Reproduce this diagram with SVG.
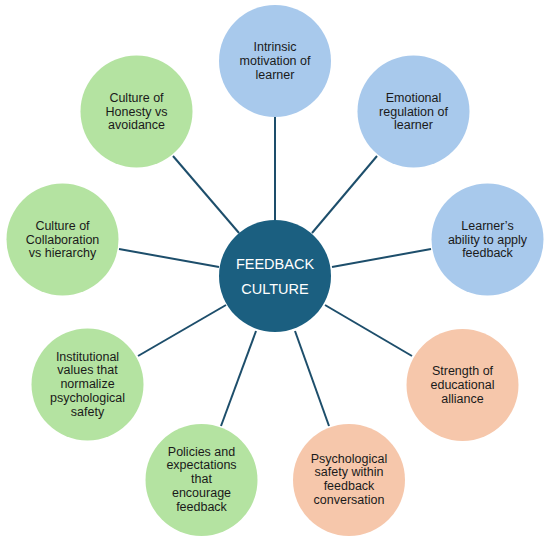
<svg xmlns="http://www.w3.org/2000/svg" width="550" height="542" viewBox="0 0 550 542">
<style>
.blue{fill:#a8c9ec}
.green{fill:#b4e3a1}
.peach{fill:#f6c7ab}
.hub{fill:#1b5f80}
.t{font-family:"Liberation Sans",Arial,sans-serif;font-size:12.5px;fill:#1a1a1a;text-anchor:middle}
.ht{font-family:"Liberation Sans",Arial,sans-serif;font-size:14.5px;fill:#ffffff;text-anchor:middle}
.c{stroke:#1d4e6b;stroke-width:2;fill:none}
</style>
<rect width="550" height="542" fill="#ffffff"/>
<g id="connectors">
<line class="c" x1="275" y1="117" x2="275" y2="221"/>
<line class="c" x1="377" y1="156" x2="312" y2="233"/>
<line class="c" x1="431" y1="249" x2="332" y2="267"/>
<line class="c" x1="412" y1="356" x2="325" y2="305"/>
<line class="c" x1="329" y1="426" x2="295" y2="331"/>
<line class="c" x1="221" y1="426" x2="256" y2="331"/>
<line class="c" x1="138" y1="356" x2="226" y2="305"/>
<line class="c" x1="119" y1="249" x2="219" y2="267"/>
<line class="c" x1="173" y1="156" x2="239" y2="233"/>
</g>
<g id="hub">
<circle class="hub" cx="275" cy="276" r="56"/>
<text class="ht" x="275" y="269">FEEDBACK</text>
<text class="ht" x="275" y="294">CULTURE</text>
</g>
<g id="intrinsic">
<circle class="blue" cx="275" cy="61" r="56"/>
<text class="t" x="275" y="51">Intrinsic</text>
<text class="t" x="275" y="65">motivation of</text>
<text class="t" x="275" y="78.5">learner</text>
</g>
<g id="emotional">
<circle class="blue" cx="413.5" cy="111.5" r="56"/>
<text class="t" x="413.5" y="101.7">Emotional</text>
<text class="t" x="413.5" y="115.7">regulation of</text>
<text class="t" x="413.5" y="129.2">learner</text>
</g>
<g id="ability">
<circle class="blue" cx="487.5" cy="239.5" r="56"/>
<text class="t" x="487.5" y="229.7">Learner’s</text>
<text class="t" x="487.5" y="243.7">ability to apply</text>
<text class="t" x="487.5" y="257.2">feedback</text>
</g>
<g id="alliance">
<circle class="peach" cx="462.5" cy="385" r="56"/>
<text class="t" x="462.5" y="375.2">Strength of</text>
<text class="t" x="462.5" y="389.2">educational</text>
<text class="t" x="462.5" y="402.7">alliance</text>
</g>
<g id="psych">
<circle class="peach" cx="349" cy="480" r="56"/>
<text class="t" x="349" y="462.7">Psychological</text>
<text class="t" x="349" y="476.2">safety within</text>
<text class="t" x="349" y="490">feedback</text>
<text class="t" x="349" y="503.5">conversation</text>
</g>
<g id="policies">
<circle class="green" cx="201.5" cy="480" r="56"/>
<text class="t" x="201.5" y="455.7">Policies and</text>
<text class="t" x="201.5" y="469.2">expectations</text>
<text class="t" x="201.5" y="483.3">that</text>
<text class="t" x="201.5" y="496.8">encourage</text>
<text class="t" x="201.5" y="510.7">feedback</text>
</g>
<g id="institutional">
<circle class="green" cx="87.5" cy="384.5" r="56"/>
<text class="t" x="87.5" y="360.7">Institutional</text>
<text class="t" x="87.5" y="374.3">values that</text>
<text class="t" x="87.5" y="388.3">normalize</text>
<text class="t" x="87.5" y="401.7">psychological</text>
<text class="t" x="87.5" y="415.7">safety</text>
</g>
<g id="collaboration">
<circle class="green" cx="62.5" cy="239.5" r="56"/>
<text class="t" x="62.5" y="229.7">Culture of</text>
<text class="t" x="62.5" y="243.7">Collaboration</text>
<text class="t" x="62.5" y="257.2">vs hierarchy</text>
</g>
<g id="honesty">
<circle class="green" cx="136.5" cy="111.5" r="56"/>
<text class="t" x="136.5" y="101.7">Culture of</text>
<text class="t" x="136.5" y="115.7">Honesty vs</text>
<text class="t" x="136.5" y="129.2">avoidance</text>
</g>
</svg>
